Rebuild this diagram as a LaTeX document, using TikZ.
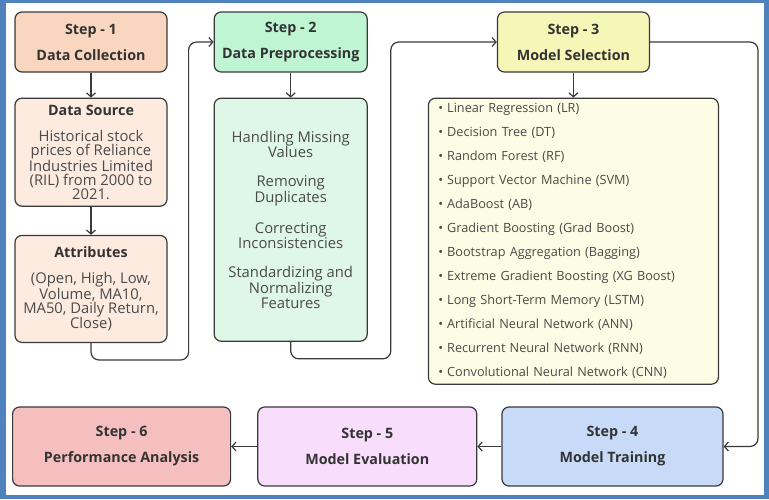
\documentclass[tikz,border=0pt]{standalone}
\usepackage{fontspec}
\setmainfont{Open Sans}
\usepackage{xcolor}
\usetikzlibrary{positioning, arrows.meta}

\definecolor{frameblue}{HTML}{4F81BD}
\definecolor{linegray}{HTML}{3A3A3A}
\definecolor{textgray}{HTML}{333333}
\definecolor{bodygray}{HTML}{4A4A4A}
\definecolor{peach}{HTML}{F8D6C0}
\definecolor{peachlight}{HTML}{FDEBE0}
\definecolor{mint}{HTML}{BFF5D3}
\definecolor{mintlight}{HTML}{DEF7E7}
\definecolor{lemon}{HTML}{F6F6B8}
\definecolor{lemonlight}{HTML}{FDFDE5}
\definecolor{sky}{HTML}{C7DBF8}
\definecolor{lilac}{HTML}{F9DDFC}
\definecolor{rose}{HTML}{F5BFBF}

\newcommand{\itm}{\textbullet\hspace{4pt}}

\tikzset{
  box/.style={draw=linegray, line width=1.2pt, rounded corners=7pt, align=center, inner sep=2pt},
  head/.style={box, text=textgray, minimum width=152pt, minimum height=60pt,
    font=\fontsize{14.3}{17}\selectfont\bfseries},
  body/.style={box, text=bodygray, minimum width=152pt, font=\fontsize{14.8}{14}\selectfont},
  flow/.style={->, rounded corners=8pt, line width=1.2pt, draw=linegray},
}

\begin{document}
\begin{tikzpicture}[x=1pt, y=1pt, >={Straight Barb[length=4pt,width=9pt]}, node distance=25pt]
% Rahmen
\fill[frameblue] (0,0) rectangle (769,-499);
\fill[white] (6,-3) rectangle (764,-495);
% Schritte 1-3
\node[head, fill=peach] (s1) at (91,-42) {Step - 1\\[9pt]Data Collection};
\node[head, fill=mint, minimum width=153pt, right=46pt of s1] (s2) {Step - 2\\[9pt]Data Preprocessing};
\node[head, fill=lemon, right=129pt of s2] (s3) {Step - 3\\[9pt]Model Selection};
% Inhalte
\node[body, fill=peachlight, minimum height=108pt, below=of s1] (src)
  {{\fontsize{14.3}{17}\bfseries\color{textgray}Data Source}\\[12pt]
   Historical stock\\prices of Reliance\\Industries Limited\\(RIL) from 2000 to\\2021.};
\node[body, fill=peachlight, minimum height=107pt, below=28pt of src] (attr)
  {{\fontsize{14.3}{17}\bfseries\color{textgray}Attributes}\\[12pt]
   (Open, High, Low,\\Volume, MA10,\\MA50, Daily Return,\\Close)};
\node[body, fill=mintlight, minimum width=153pt, minimum height=243pt, below=of s2] (prep)
  {Handling Missing\\Values\\[15pt]
   Removing\\Duplicates\\[15pt]
   Correcting\\Inconsistencies\\[15pt]
   Standardizing and\\Normalizing\\Features};
\node[box, fill=lemonlight, text=bodygray, align=left, text width=270pt, inner xsep=10pt,
  minimum height=286pt, font=\fontsize{12.7}{24}\selectfont, below=of s3] (models)
  {\itm Linear Regression (LR)\\
   \itm Decision Tree (DT)\\
   \itm Random Forest (RF)\\
   \itm Support Vector Machine (SVM)\\
   \itm AdaBoost (AB)\\
   \itm Gradient Boosting (Grad Boost)\\
   \itm Bootstrap Aggregation (Bagging)\\
   \itm Extreme Gradient Boosting (XG Boost)\\
   \itm Long Short-Term Memory (LSTM)\\
   \itm Artificial Neural Network (ANN)\\
   \itm Recurrent Neural Network (RNN)\\
   \itm Convolutional Neural Network (CNN)};
% Schritte 4-6
\node[head, fill=sky, minimum width=221pt, minimum height=79pt] (s4) at (612.5,-446.5) {Step - 4\\[9pt]Model Training};
\node[head, fill=lilac, minimum width=219pt, minimum height=79pt, left=24pt of s4] (s5) {Step - 5\\[9pt]Model Evaluation};
\node[head, fill=rose, minimum width=218pt, minimum height=79pt, left=26pt of s5] (s6) {Step - 6\\[9pt]Performance Analysis};
% Verbindungen
\draw[flow] (s1) -- (src);
\draw[flow] (src) -- (attr);
\draw[flow] (attr.south) -- ++(0,-17pt) -| ([xshift=-25pt]s2.west) -- (s2.west);
\draw[flow] (s2) -- (prep);
\draw[flow] (prep.south) -- ++(0,-17pt) -| ([xshift=-106pt]s3.west) -- (s3.west);
\draw[flow] (s3) -- (models);
\draw[flow] (s3.east) -- ++(108pt,0) |- (s4.east);
\draw[flow] (s4) -- (s5);
\draw[flow] (s5) -- (s6);
\end{tikzpicture}
\end{document}
